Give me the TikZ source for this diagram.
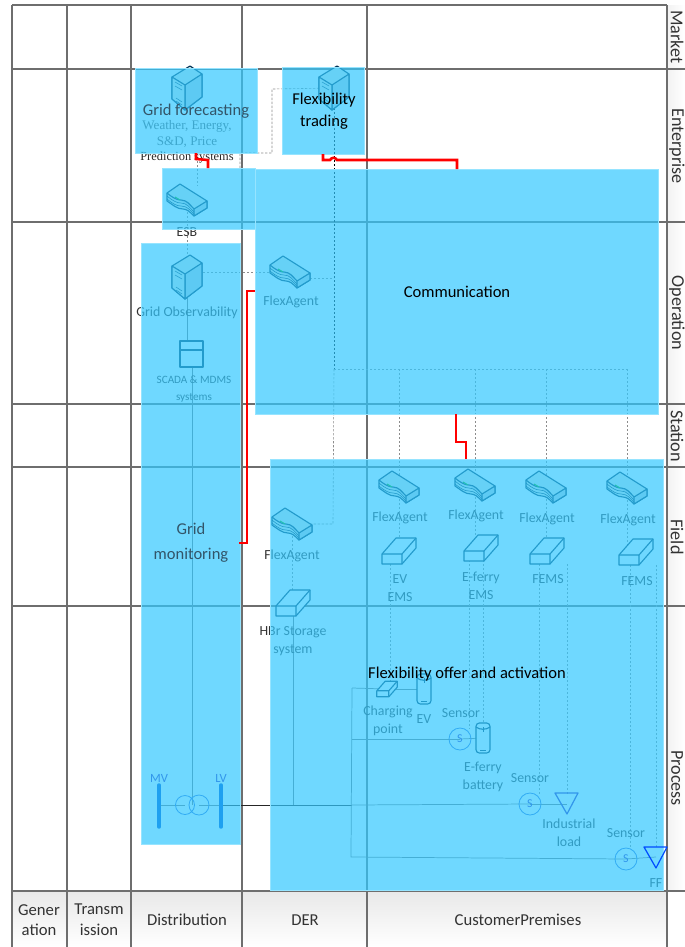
\documentclass[tikz,border=0pt]{standalone}
\usepackage{fontspec}
\setmainfont{Carlito}
\newfontfamily\serifface{Liberation Serif}
\usetikzlibrary{calc}
\definecolor{overlayblue}{RGB}{50,200,255}
\definecolor{overlayedge}{RGB}{150,228,255}
\definecolor{iconline}{RGB}{0,50,85}
\definecolor{iconface}{RGB}{225,232,225}
\definecolor{iconside}{RGB}{195,210,215}
\definecolor{brightblue}{RGB}{30,160,240}
\definecolor{softblue}{RGB}{50,150,235}
\definecolor{topdark}{RGB}{50,85,105}
\definecolor{gridgray}{RGB}{110,110,110}
\tikzset{
  gridline/.style={draw=gridgray,line width=.8pt},
  overlay/.style={fill=overlayblue,fill opacity=.7,draw=overlayedge,line width=.3pt},
  icontext/.style={font=\fontsize{10.4}{13.5}\selectfont,align=center,text=black!80,inner sep=0},
  colhead/.style={font=\fontsize{12.5}{15.5}\selectfont,align=center,text=black!80,inner sep=0},
  rowhead/.style={font=\fontsize{13.6}{16}\selectfont,rotate=-90,text=black!80,inner sep=0},
  toptext/.style={font=\fontsize{12.4}{16.5}\selectfont,align=center,text=black,inner sep=0},
  muted/.style={font=\fontsize{12.4}{18.5}\selectfont,align=center,text=topdark,inner sep=0},
  serifnote/.style={font=\serifface\fontsize{9.8}{11.5}\selectfont,align=center,inner sep=0},
  redlink/.style={draw=red,line width=1.9pt,line join=miter},
  ctrl/.style={draw=black!45,line width=.45pt,dash pattern=on 1.7pt off 1.3pt},
  ctrldark/.style={draw=black,line width=.5pt,dash pattern=on 1.7pt off 1.3pt},
  power/.style={draw=black!55,line width=.55pt},
  mainbus/.style={draw=black!85,line width=.7pt},
  iconstroke/.style={draw=iconline,line width=.85pt,line join=round},
  server/.pic={
    \path[iconstroke,fill=iconface] (-15,-11) -- (3,-22) -- (15,-14) -- (15,9) -- (-2,22) -- (-15,11) -- cycle;
    \path[iconstroke,fill=iconside] (-2,-3) -- (15,-14) -- (15,9) -- (-2,22) -- cycle;
    \path[iconstroke,fill=iconface] (-15,-11) -- (-2,-3) -- (-2,22) -- (-15,11) -- cycle;
    \draw[draw=iconline,line width=.4pt] (-12,-6) -- (-5,-2) (-12,-2) -- (-5,2) (-11,10) -- (-5,14) (-11,13) -- (-5,17);
  },
  router/.pic={
    \path[iconstroke,fill=iconface] (-20,-7) -- (-7,-16) -- (20,1) -- (20,8) -- (7,16) .. controls (3,12) and (0,9) .. (-4,9) .. controls (-10,9) and (-14,5) .. (-20,1) -- cycle;
    \path[iconstroke,fill=iconside] (-20,-7) .. controls (-14,-2) and (-10,0) .. (-6,0) .. controls (0,0) and (3,5) .. (7,9) -- (20,1) -- (20,8) -- (7,16) -- (7,9);
    \draw[draw=iconline,line width=.45pt] (-20,-4) .. controls (-14,1) and (-10,3) .. (-6,3) .. controls (0,3) and (3,8) .. (7,12)
      (-20,-1) .. controls (-14,4) and (-10,6) .. (-6,6) .. controls (0,6) and (3,10) .. (7,14);
    \draw[draw=green!70!black,line width=.8pt] (-12,-3) -- (-7,0);
  },
  boxicon/.pic={
    \path[iconstroke,fill=white] (-17,3) -- (-3,-13) -- (17,-13) -- (17,-3) -- (3,13) -- (-17,13) -- cycle;
    \draw[iconstroke] (-17,3) -- (3,3) -- (17,-13) (3,3) -- (3,13);
  },
  battery/.pic={
    \path[iconstroke,fill=white,rounded corners=2.5pt] (-7,-15) rectangle (7,15);
    \draw[iconstroke] (-7,-11) .. controls (-3,-8) and (3,-8) .. (7,-11);
    \draw[draw=iconline,line width=.5pt] (-3,12) -- (3,12) (0,-11) -- (0,-6);
  },
  sensoricon/.pic={
    \draw[draw=softblue!55!overlayblue,line width=.6pt] (0,0) circle (11);
    \node[font=\fontsize{9}{11}\selectfont,text=softblue,inner sep=0] {S};
  },
}
\begin{document}
\begin{tikzpicture}[x=.75pt,y=-.75pt]
\useasboundingbox (0,0) rectangle (685,947);
\fill[white] (0,0) rectangle (685,947);
% header shading
\shade[top color=black!9,bottom color=white] (12,891) rectangle (667,947);
\shade[left color=black!5,right color=white] (667,5) rectangle (685,891);
% swimlane grid
\draw[gridline,line width=1.1pt] (12,5) -- (667,5);
\foreach \yy in {69,222,404,467,606,891} \draw[gridline] (12,\yy) -- (685,\yy);
\foreach \xx in {12,67,131,242,367,667} \draw[gridline] (\xx,5) -- (\xx,947);
% icon anchors
\coordinate (srvForecast) at (187,88);
\coordinate (srvTrading) at (334,88);
\coordinate (srvObs) at (187,277);
\coordinate (rtESB) at (187,200);
\coordinate (rtOp) at (290,272);
\coordinate (rtEV) at (399,487);
\coordinate (rtFerry) at (475,485);
\coordinate (rtFemsA) at (546,487);
\coordinate (rtFemsB) at (627,488);
\coordinate (rtHBr) at (292,524);
\coordinate (bxEV) at (399,551);
\coordinate (bxFerry) at (481,548);
\coordinate (bxFemsA) at (547,551);
\coordinate (bxFemsB) at (636,552);
\coordinate (bxHBr) at (293,603);
\coordinate (bxCharge) at (387,689);
\coordinate (batEV) at (424,689);
\coordinate (batFerry) at (483,738);
\coordinate (snsFerry) at (460,739);
\coordinate (snsLoad) at (530,804);
\coordinate (snsFF) at (626,859);
\coordinate (loadInd) at (567,804);
\coordinate (loadFF) at (656,857);
\coordinate (xfA) at (185,805);
\coordinate (xfB) at (199,805);
\coordinate (busMV) at (159,805);
\coordinate (busLV) at (221,805);
\coordinate (scada) at (192,354);
% routing points
\coordinate (jA) at (240,168);
\coordinate (jB) at (240,153);
\coordinate (jC) at (272,153);
\coordinate (jD) at (272,89);
\coordinate (jTop) at (334,369);
\coordinate (jEnd) at (627,369);
\coordinate (jHBr) at (333,524);
\coordinate (jOpEnd) at (334,278);
\coordinate (jEVa) at (390,564);
\coordinate (jEVb) at (390,682);
\coordinate (jFa) at (469,560);
\coordinate (jFb) at (469,729);
\coordinate (jFc) at (483,560);
\coordinate (jFd) at (483,724);
\coordinate (jGa) at (539,564);
\coordinate (jGb) at (539,794);
\coordinate (jGc) at (567,564);
\coordinate (jGd) at (567,794);
\coordinate (jHa) at (630,565);
\coordinate (jHb) at (630,848);
\coordinate (jHc) at (656,565);
\coordinate (jHd) at (656,847);
\coordinate (pTop) at (352,688);
\coordinate (pMid) at (352,739);
\coordinate (pBus) at (352,805);
\coordinate (pBot) at (351,857);
\coordinate (pHBr) at (293,805);
% control links
\draw[ctrl] (jA) -- (jB) -- (jC) -- (jD) -- (srvTrading);
\draw[ctrl] (197,153) -- (197,186);
\draw[ctrl] (rtESB) -- (srvObs);
\draw[ctrl] (187,168) -- (jA);
\draw[ctrl] (srvObs |- rtOp) -- (rtOp);
\draw[ctrl] (rtOp |- jOpEnd) -- (jOpEnd);
\draw[ctrldark] (srvTrading) -- (jTop);
\draw[ctrl] (jTop) -- (jEnd);
\draw[ctrl] (jTop) -- (jHBr) -- (rtHBr);
\draw[ctrl] (rtEV |- jTop) -- (rtEV);
\draw[ctrl] (rtFerry |- jTop) -- (rtFerry);
\draw[ctrl] (rtFemsA |- jTop) -- (rtFemsA);
\draw[ctrl] (jEnd) -- (rtFemsB);
\foreach \a/\b in {rtEV/bxEV,rtFerry/bxFerry,rtFemsA/bxFemsA,rtFemsB/bxFemsB,rtHBr/bxHBr}
  \draw[ctrl] (\a) -- (\a |- \b);
\draw[ctrl] (jEVa) -- (jEVb);
\draw[ctrl] (jFa) -- (jFb);
\draw[ctrl] (jFc) -- (jFd);
\draw[ctrl] (jGa) -- (jGb);
\draw[ctrl] (jGc) -- (jGd);
\draw[ctrl] (jHa) -- (jHb);
\draw[ctrl] (jHc) -- (jHd);
% power links
\draw[power] (srvObs) -- (srvObs |- scada);
\draw[power] (scada) -- (scada |- xfA);
\draw[power] (bxHBr) -- (pHBr);
\draw[mainbus] (busLV) -- (pBus);
\draw[power] (pTop) -- (pBot) -- (snsFF);
\draw[power] (pTop) -- (bxCharge);
\draw[power] (bxCharge |- batEV) -- (batEV);
\draw[power] (pMid) -- (snsFerry);
\draw[power] (snsFerry) -- (batFerry);
\draw[power] (pBus) -- (snsLoad);
\draw[power] (snsLoad) -- (loadInd);
\draw[power] (snsFF) -- (loadFF);
\draw[power] (busMV) -- (xfA);
\draw[power] (xfB) -- (busLV);
% icons
\pic at (srvForecast) {server};
\pic at (srvTrading) {server};
\pic at (srvObs) {server};
\pic at (rtESB) {router};
\pic at (rtOp) {router};
\pic at (rtEV) {router};
\pic at (rtFerry) {router};
\pic at (rtFemsA) {router};
\pic at (rtFemsB) {router};
\pic at (rtHBr) {router};
\pic at (bxEV) {boxicon};
\pic at (bxFerry) {boxicon};
\pic at (bxFemsA) {boxicon};
\pic at (bxFemsB) {boxicon};
\pic at (bxHBr) {boxicon};
\pic[scale=.6] at (bxCharge) {boxicon};
\pic at (batEV) {battery};
\pic at (batFerry) {battery};
\path[iconstroke,fill=white] (180,341) rectangle (203,367);
\draw[iconstroke] (180,350) -- (203,350);
% texts below the coloured panels
\node[serifnote,text=black!65] (tWeather) at (187,134) {Weather, Energy,\\S\&D, Price};
\node[serifnote,font=\serifface\fontsize{9.3}{11.5}\selectfont,text=black!85] (tPred) at (187,158) {Prediction systems};
\node[icontext] (tESB) at (187,232) {ESB};
\node[icontext] (tObs) at (187,313) {Grid Observability};
\node[icontext,font=\fontsize{8.4}{13}\selectfont] (tScada) at (194,389) {SCADA \& MDMS\\systems};
\node[icontext] (tOp) at (291,302) {FlexAgent};
\node[icontext] (tEV) at (400,518) {FlexAgent};
\node[icontext] (tFerry) at (476,516) {FlexAgent};
\node[icontext] (tFemsA) at (547,519) {FlexAgent};
\node[icontext] (tFemsB) at (628,520) {FlexAgent};
\node[icontext] (tHBrA) at (292,556) {FlexAgent};
\node[icontext] (tEVEMS) at (400,588) {EV\\EMS};
\node[icontext] (tFerryEMS) at (481,586) {E-ferry\\EMS};
\node[icontext] (tFEMSa) at (548,579) {FEMS};
\node[icontext] (tFEMSb) at (637,581) {FEMS};
\node[icontext] (tHBr) at (293,641) {HBr Storage\\system};
\node[icontext] (tCharge) at (388,721) {Charging\\point};
\node[icontext] (tEVlbl) at (424,719) {EV};
\node[icontext] (tSnsF) at (461,713) {Sensor};
\node[icontext] (tBatF) at (483,777) {E-ferry\\battery};
\node[icontext] (tSnsL) at (530,778) {Sensor};
\node[icontext] (tInd) at (569,833) {Industrial\\load};
\node[icontext] (tSnsFF) at (626,833) {Sensor};
\node[icontext] (tFF) at (656,883) {FF};
% coloured panels
\path[overlay] (135,68) rectangle (257,153);
\path[overlay] (282,67) rectangle (364,154);
\path[overlay] (162,168) rectangle (255,229);
\path[overlay] (255,169) rectangle (658,414);
\path[overlay] (141,243) rectangle (240,844);
\path[overlay] (270,459) rectangle (663,890);
% electrical symbols
\draw[draw=brightblue,line width=2.6pt,line cap=round] (busMV |- 0,785) -- (busMV |- 0,827);
\draw[draw=brightblue,line width=2.6pt,line cap=round] (busLV |- 0,785) -- (busLV |- 0,827);
\draw[draw=softblue!55!overlayblue,line width=.6pt] (xfA) circle (9.5) (xfB) circle (10);
\pic at (snsFerry) {sensoricon};
\pic at (snsLoad) {sensoricon};
\pic at (snsFF) {sensoricon};
\path[draw=softblue,line width=.9pt,line join=round] (555,793) -- (578,793) -- (567,814) -- cycle;
\path[draw=blue!70!cyan,line width=.9pt,line join=round] (644,847) -- (667,847) -- (656,868) -- cycle;
\node[icontext,text=softblue,font=\fontsize{9.4}{12}\selectfont] (tMV) at (159,778) {MV};
\node[icontext,text=softblue,font=\fontsize{9.4}{12}\selectfont] (tLV) at (221,778) {LV};
% red links
\coordinate (rA1) at (196,153);
\coordinate (rA2) at (196,159);
\coordinate (rA3) at (208,160);
\coordinate (rA4) at (208,168);
\draw[redlink] (rA1) -- (rA2) -- (rA3) -- (rA4);
\coordinate (rB1) at (323,154);
\coordinate (rB2) at (323,160);
\coordinate (rB3) at (457,160);
\coordinate (rB4) at (457,169);
\draw[redlink] (rB1) -- (rB2) -- (330,160) .. controls (332,157) and (335,157) .. (337,160) -- (rB3) -- (rB4);
\coordinate (rC1) at (239,543);
\coordinate (rC2) at (247,543);
\coordinate (rC3) at (247,291);
\coordinate (rC4) at (255,291);
\draw[redlink] (rC1) -- (rC2) -- (rC3) -- (rC4);
\coordinate (rD1) at (456,414);
\coordinate (rD2) at (456,442);
\coordinate (rD3) at (466,442);
\coordinate (rD4) at (466,459);
\draw[redlink] (rD1) -- (rD2) -- (rD3) -- (rD4);
% panel titles
\node[muted] (tForecast) at (196,111) {Grid forecasting};
\node[toptext] (tTrading) at (324,111) {Flexibility\\trading};
\node[toptext] (tComm) at (457,292) {Communication};
\node[muted] (tMonitor) at (191,543) {Grid\\monitoring};
\node[toptext] (tOffer) at (467,674) {Flexibility offer and activation};
% axis labels
\node[colhead] (cGen) at (39,920) {Gener\\ation};
\node[colhead] (cTrans) at (99,920) {Transm\\ission};
\node[colhead] (cDist) at (187,920) {Distribution};
\node[colhead] (cDER) at (305,920) {DER};
\node[colhead] (cCust) at (518,920) {CustomerPremises};
\node[rowhead] (rMarket) at (677,37) {Market};
\node[rowhead] (rEnt) at (677,146) {Enterprise};
\node[rowhead] (rOp) at (677,313) {Operation};
\node[rowhead] (rSt) at (677,436) {Station};
\node[rowhead] (rFi) at (677,537) {Field};
\node[rowhead] (rPr) at (677,778) {Process};
\end{tikzpicture}
\end{document}
